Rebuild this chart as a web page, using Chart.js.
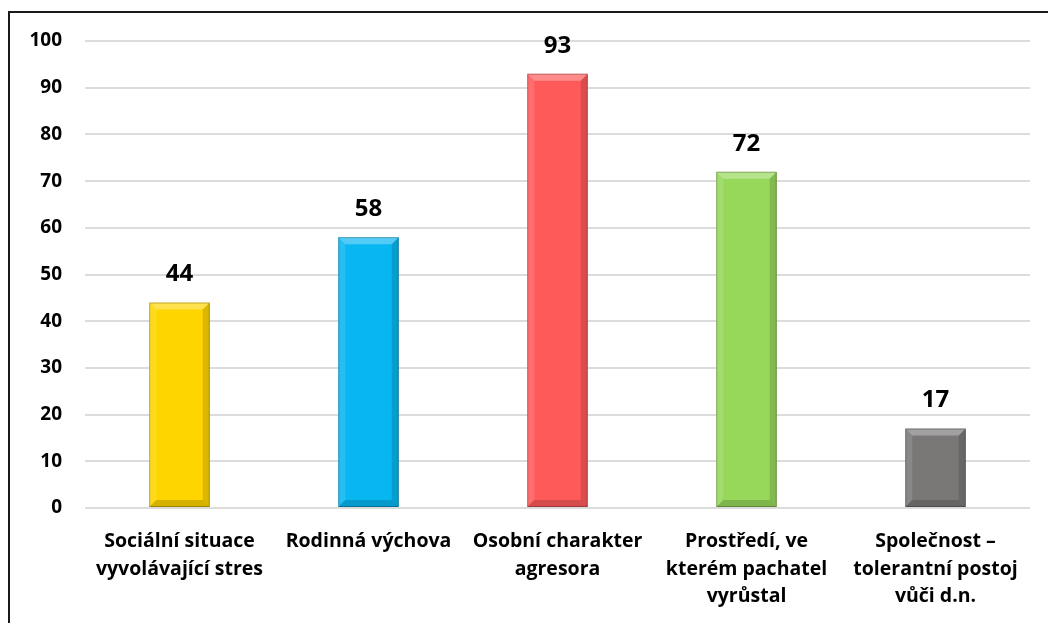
<!DOCTYPE html>
<html>
<head>
<meta charset="utf-8">
<script src="https://cdn.jsdelivr.net/npm/chart.js@4"></script>
<style>
  html, body { margin: 0; padding: 0; background: #fff; overflow: hidden; }
  #wrap { position: absolute; left: 0; top: 0; width: 1048px; height: 623px; }
  #frame { position: absolute; left: 8px; top: 11px; width: 1100px; height: 700px;
           border-left: 2px solid #1a1a1a; border-top: 2px solid #1a1a1a; box-sizing: border-box; }
  canvas { position: absolute; left: 0; top: 0; }
</style>
</head>
<body>
<div id="wrap">
  <div id="frame"></div>
  <canvas id="c" width="1048" height="623"></canvas>
</div>
<script>
const categories = [
  ["Sociální situace", "vyvolávající stres"],
  ["Rodinná výchova"],
  ["Osobní charakter", "agresora"],
  ["Prostředí, ve", "kterém pachatel", "vyrůstal"],
  ["Společnost –", "tolerantní postoj", "vůči d.n."]
];
const values = [44, 58, 93, 72, 17];
const barColors = ["#FFD500", "#08B7F2", "#FF5A5A", "#97D85B", "#7A7777"];
const yTicks = [0, 10, 20, 30, 40, 50, 60, 70, 80, 90, 100];

const FONT = "'Open Sans', 'Noto Sans', sans-serif";

const bevelPlugin = {
  id: 'bevel',
  afterDatasetsDraw(chart) {
    const ctx = chart.ctx;
    const meta = chart.getDatasetMeta(0);
    meta.data.forEach((bar, i) => {
      const p = bar.getProps(['x', 'y', 'base', 'width'], true);
      const l = p.x - p.width / 2, r = p.x + p.width / 2;
      const t = Math.min(p.y, p.base), b = Math.max(p.y, p.base);
      const bv = Math.min(7, (b - t) / 2);
      ctx.save();
      const poly = (pts, fill) => {
        ctx.beginPath();
        ctx.moveTo(pts[0][0], pts[0][1]);
        for (let k = 1; k < pts.length; k++) ctx.lineTo(pts[k][0], pts[k][1]);
        ctx.closePath();
        ctx.fillStyle = fill;
        ctx.fill();
      };
      poly([[l, t], [r, t], [r - bv, t + bv], [l + bv, t + bv]], 'rgba(255,255,255,0.30)');
      poly([[l, t], [l + bv, t + bv], [l + bv, b - bv], [l, b]], 'rgba(255,255,255,0.12)');
      poly([[r, t], [r - bv, t + bv], [r - bv, b - bv], [r, b]], 'rgba(0,0,0,0.14)');
      poly([[l, b], [l + bv, b - bv], [r - bv, b - bv], [r, b]], 'rgba(0,0,0,0.16)');
      ctx.strokeStyle = 'rgba(0,0,0,0.25)';
      ctx.lineWidth = 1;
      ctx.strokeRect(l + 0.5, t + 0.5, p.width - 1, b - t - 1);
      ctx.restore();

      // data label
      ctx.save();
      ctx.font = "bold 24px " + FONT;
      ctx.fillStyle = '#000';
      ctx.textAlign = 'center';
      ctx.textBaseline = 'middle';
      ctx.fillText(String(values[i]), p.x, t - 28);
      ctx.restore();
    });
  }
};

new Chart(document.getElementById('c'), {
  type: 'bar',
  data: {
    labels: categories,
    datasets: [{
      data: values,
      backgroundColor: barColors,
      borderWidth: 0,
      categoryPercentage: 1,
      barPercentage: 0.32
    }]
  },
  options: {
    responsive: false,
    animation: false,
    devicePixelRatio: 1,
    layout: { padding: { top: 41, right: 18, bottom: 0, left: 0 } },
    plugins: { legend: { display: false }, tooltip: { enabled: false } },
    scales: {
      y: {
        min: 0, max: 100,
        afterBuildTicks(scale) { scale.ticks = yTicks.map(v => ({ value: v })); },
        afterFit(scale) { scale.width = 85; },
        grid: { color: '#DCDCDC', lineWidth: 2, drawTicks: false },
        border: { display: false },
        ticks: { padding: 23, color: '#000', font: { family: FONT, size: 19, weight: 'bold' } }
      },
      x: {
        afterFit(scale) { scale.height = 115; },
        grid: { display: false, drawTicks: false },
        border: { display: false },
        ticks: { padding: 20, color: '#000', maxRotation: 0, autoSkip: false,
                 font: { family: FONT, size: 19.5, weight: 'bold', lineHeight: 1.4 } }
      }
    }
  },
  plugins: [bevelPlugin]
});
</script>
</body>
</html>
